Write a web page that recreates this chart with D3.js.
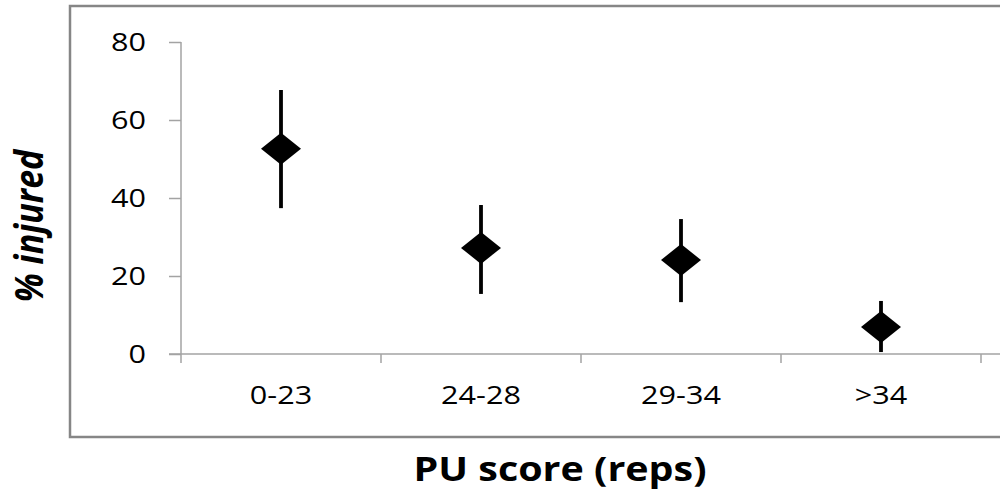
<!DOCTYPE html>
<html>
<head>
<meta charset="utf-8">
<script src="https://cdn.jsdelivr.net/npm/d3@7"></script>
<style>
  html, body { margin: 0; padding: 0; background: #fff; }
  svg { display: block; }
  text { font-family: "Open Sans", "DejaVu Sans", sans-serif; fill: #000; }
</style>
</head>
<body>
<svg id="chart" width="1000" height="490"></svg>
<script>
// ---- data ----
const categories = ["0-23", "24-28", "29-34", ">34"];
const values = [52.6, 27.2, 24.1, 6.9];
const errLow = [37.4, 15.4, 13.3, 0.5];
const errHigh = [67.7, 38.2, 34.6, 13.6];
const yTicks = [0, 20, 40, 60, 80];
const xTitle = "PU score (reps)";
const yTitle = "% injured";

// ---- layout ----
const W = 1000, H = 490;
const plot = { left: 181, right: 981, top: 42, bottom: 354 };
const SX = 1.2; // horizontal stretch of text in the reference

const svg = d3.select("#chart");

// outer chart border
svg.append("rect")
  .attr("x", 70).attr("y", 6)
  .attr("width", 960).attr("height", 431)
  .attr("fill", "none")
  .attr("stroke", "#868686")
  .attr("stroke-width", 2.5);

const x = d3.scaleBand().domain(categories).range([plot.left, plot.right]).padding(0);
const y = d3.scaleLinear().domain([0, 80]).range([plot.bottom, plot.top]);

const axisColor = "#a3a3a3";

// y axis
const yAxis = svg.append("g")
  .attr("transform", `translate(${plot.left},0)`)
  .call(d3.axisLeft(y).tickValues(yTicks).tickSize(12).tickFormat(""));
yAxis.select(".domain").remove();
yAxis.selectAll(".tick line").attr("stroke", axisColor).attr("stroke-width", 1.5);
yAxis.append("line")
  .attr("x1", 0).attr("x2", 0)
  .attr("y1", y(80)).attr("y2", plot.bottom + 9)
  .attr("stroke", axisColor).attr("stroke-width", 1.5);

// y tick labels
svg.append("g").selectAll("text")
  .data(yTicks)
  .join("text")
  .attr("transform", d => `translate(146,${y(d)}) scale(${SX},1)`)
  .attr("dy", "0.36em")
  .attr("text-anchor", "end")
  .style("font-size", "25.5px")
  .text(d => d);

// x axis
const xAxis = svg.append("g")
  .attr("transform", `translate(0,${plot.bottom})`);
xAxis.append("line")
  .attr("x1", plot.left - 12).attr("x2", W)
  .attr("y1", 0).attr("y2", 0)
  .attr("stroke", axisColor).attr("stroke-width", 1.5);
const bounds = categories.map(c => x(c)).concat([x(categories[categories.length - 1]) + x.bandwidth()]);
xAxis.selectAll("line.tk")
  .data(bounds.slice(1))
  .join("line")
  .attr("class", "tk")
  .attr("x1", d => d).attr("x2", d => d)
  .attr("y1", 0).attr("y2", 9)
  .attr("stroke", axisColor).attr("stroke-width", 1.5);

// x tick labels
svg.append("g").selectAll("text")
  .data(categories)
  .join("text")
  .attr("transform", d => `translate(${x(d) + x.bandwidth() / 2},403.5) scale(${SX},1)`)
  .attr("text-anchor", "middle")
  .style("font-size", "25.5px")
  .text(d => d);

// error bars
const pts = categories.map((c, i) => ({ c, v: values[i], lo: errLow[i], hi: errHigh[i] }));
svg.append("g").selectAll("line")
  .data(pts)
  .join("line")
  .attr("x1", d => x(d.c) + x.bandwidth() / 2)
  .attr("x2", d => x(d.c) + x.bandwidth() / 2)
  .attr("y1", d => y(d.lo))
  .attr("y2", d => y(d.hi))
  .attr("stroke", "#000")
  .attr("stroke-width", 3.8);

// diamond markers
const dp = d3.path();
dp.moveTo(-1, 0); dp.lineTo(0, -1); dp.lineTo(1, 0); dp.lineTo(0, 1); dp.closePath();
svg.append("g").selectAll("path")
  .data(pts)
  .join("path")
  .attr("d", dp.toString())
  .attr("transform", d => `translate(${x(d.c) + x.bandwidth() / 2},${y(d.v)}) scale(20,16)`)
  .attr("fill", "#000");

// axis titles
svg.append("text")
  .attr("transform", `translate(560,481) scale(1.16,1)`)
  .attr("text-anchor", "middle")
  .style("font-size", "34px")
  .style("font-weight", "bold")
  .text(xTitle);

svg.append("text")
  .attr("transform", `translate(43,226) scale(1.15,1) rotate(-90)`)
  .attr("text-anchor", "middle")
  .style("font-size", "34px")
  .style("font-weight", "bold")
  .style("font-style", "italic")
  .text(yTitle);
</script>
</body>
</html>
